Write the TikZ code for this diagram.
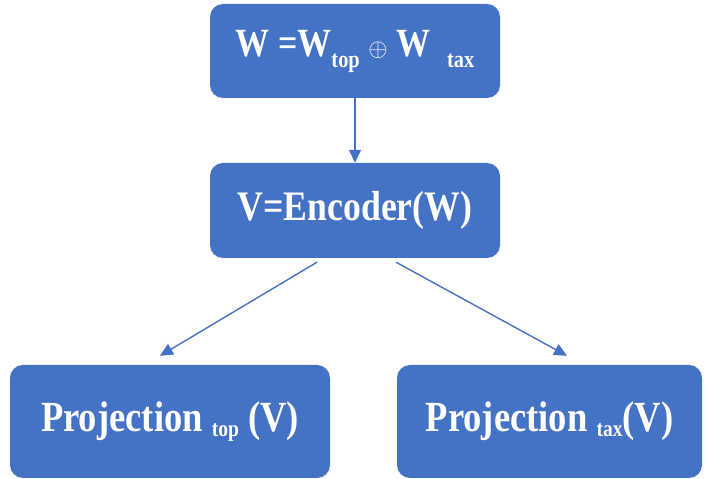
\documentclass[tikz,border=0pt]{standalone}
\usepackage{fontspec}
\setmainfont{Liberation Serif}
\newfontfamily\boxfont[FakeStretch=0.85]{Liberation Serif}
\usepackage{tikz}
\usetikzlibrary{arrows.meta}
\definecolor{boxblue}{HTML}{4472C4}
\newcommand{\lowsub}[3]{\raisebox{-#2}{\fontsize{#1}{#1}\selectfont #3}}

\begin{document}
\begin{tikzpicture}[x=1pt,y=1pt,
    blk/.style={draw=none,fill=boxblue,rounded corners=13pt,inner sep=0pt,
      text=white,font=\boxfont\bfseries},
    arr/.style={draw=boxblue,line width=1.4pt,-{Triangle[length=13pt,width=12pt]}}]
    \useasboundingbox (0,0) rectangle (705,479);
    \node[blk,minimum width=290pt,minimum height=94pt] (w) at (355, 428)
      {\fontsize{40}{40}\selectfont W =W\lowsub{24}{11pt}{top}\ {\fontsize{26}{26}\selectfont$\oplus$}\ W\ \ \lowsub{24}{11pt}{tax}};
    \node[blk,minimum width=290pt,minimum height=95pt] (v) at (355, 268.5)
      {\fontsize{42}{42}\selectfont V=Encoder(W)};
    \node[blk,minimum width=320pt,minimum height=113pt] (pt) at (170, 57.5)
      {\fontsize{43}{43}\selectfont Projection \lowsub{23}{5pt}{top} (V)};
    \node[blk,minimum width=305pt,minimum height=113pt] (px) at (549.5, 57.5)
      {\fontsize{43}{43}\selectfont Projection \lowsub{23}{5pt}{tax}(V)};
    \draw [arr] (w) to (v);
    \draw [arr] ([xshift=-38pt,yshift=-4pt]v.south) to ([xshift=-10pt,yshift=9pt]pt.north);
    \draw [arr] ([xshift=41pt,yshift=-4pt]v.south) to ([xshift=17.5pt,yshift=9pt]px.north);
  \end{tikzpicture}
\end{document}
